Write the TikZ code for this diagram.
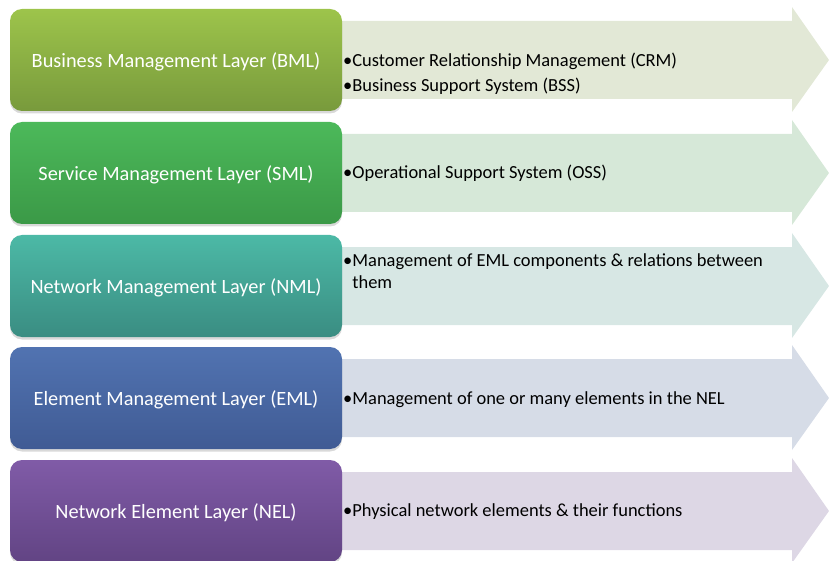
\documentclass[tikz,border=0pt]{standalone}
\usepackage{fontspec}
\setmainfont{Carlito}
\usetikzlibrary{shadows}
\definecolor{bmltop}{HTML}{9DC44B}
\definecolor{bmlbot}{HTML}{789A3C}
\definecolor{smltop}{HTML}{4CB95A}
\definecolor{smlbot}{HTML}{3B9947}
\definecolor{nmltop}{HTML}{4CB9A6}
\definecolor{nmlbot}{HTML}{3A8D82}
\definecolor{emltop}{HTML}{5173B1}
\definecolor{emlbot}{HTML}{405B94}
\definecolor{neltop}{HTML}{805BA7}
\definecolor{nelbot}{HTML}{624484}
\definecolor{bmlarrow}{HTML}{E2E8D6}
\definecolor{smlarrow}{HTML}{D6E8D8}
\definecolor{nmlarrow}{HTML}{D7E7E4}
\definecolor{emlarrow}{HTML}{D6DCE7}
\definecolor{nelarrow}{HTML}{DDD7E5}
\newcommand{\boxxs}{10}
\newcommand{\boxxe}{342}
\newcommand{\boxcx}{176}
\newcommand{\arrowxs}{330}
\newcommand{\headxs}{792}
\newcommand{\tipx}{829}
\newcommand{\infox}{343}
% arrow behind one layer: #1 = top of the row, #2 = colour
\newcommand{\layerarrow}[2]{
  \fill[#2] (\arrowxs, #1 + 12) -- (\headxs, #1 + 12)
    -- (\headxs, #1 - 2) -- (\tipx, #1 + 51)
    -- (\headxs, #1 + 103) -- (\headxs, #1 + 90)
    -- (\arrowxs, #1 + 90) -- cycle;
}
\newcommand{\layertext}[1]{\raisebox{-2pt}[\height][\depth]{#1}}
\tikzset{
  layerbox/.style={minimum width=332pt, minimum height=102pt,
    rounded corners=12pt, inner sep=0pt, text=white,
    font=\fontsize{20.3}{24}\selectfont,
    drop shadow={shadow xshift=0pt, shadow yshift=-2.5pt, opacity=0.3}},
  infotext/.style={anchor=west, align=left, inner sep=0pt,
    font=\fontsize{18.45}{22}\selectfont}
}
\begin{document}
\begin{tikzpicture}[x=1pt, y=-1pt]
    \useasboundingbox (0,0) rectangle (829,561);
    \clip (0,0) rectangle (829,561);
    \begin{scope}
      % arrows
      \layerarrow{9}{bmlarrow}
      \layerarrow{122}{smlarrow}
      \layerarrow{235}{nmlarrow}
      \layerarrow{347}{emlarrow}
      \layerarrow{460}{nelarrow}
    \end{scope}
    \begin{scope}
      % layers
      \node[layerbox, top color=bmltop, bottom color=bmlbot] (bml)
        at (\boxcx, 60) {\layertext{Business Management Layer (BML)}};
      \node[layerbox, top color=smltop, bottom color=smlbot] (sml)
        at (\boxcx, 173) {\layertext{Service Management Layer (SML)}};
      \node[layerbox, top color=nmltop, bottom color=nmlbot] (nml)
        at (\boxcx, 286) {\layertext{Network Management Layer (NML)}};
      \node[layerbox, top color=emltop, bottom color=emlbot] (eml)
        at (\boxcx, 398) {\layertext{Element Management Layer (EML)}};
      \node[layerbox, top color=neltop, bottom color=nelbot] (nel)
        at (\boxcx, 511) {\layertext{Network Element Layer (NEL)}};
    \end{scope}
    \begin{scope}
      \node[infotext] (bmlinfo) at (\infox, 74)
        {•Customer Relationship Management (CRM)\\[3pt]
         •Business Support System (BSS)};
      \node[infotext] (smlinfo) at (\infox, 173.5)
        {•Operational Support System (OSS)};
      \node[infotext] (nmlinfo) at (\infox, 271)
        {•Management of EML components \& relations between\\
         \hphantom{•}them};
      \node[infotext] (emlinfo) at (\infox, 399.5)
        {•Management of one or many elements in the NEL};
      \node[infotext] (nelinfo) at (\infox, 511.5)
        {•Physical network elements \& their functions};
    \end{scope}
  \end{tikzpicture}
\end{document}
